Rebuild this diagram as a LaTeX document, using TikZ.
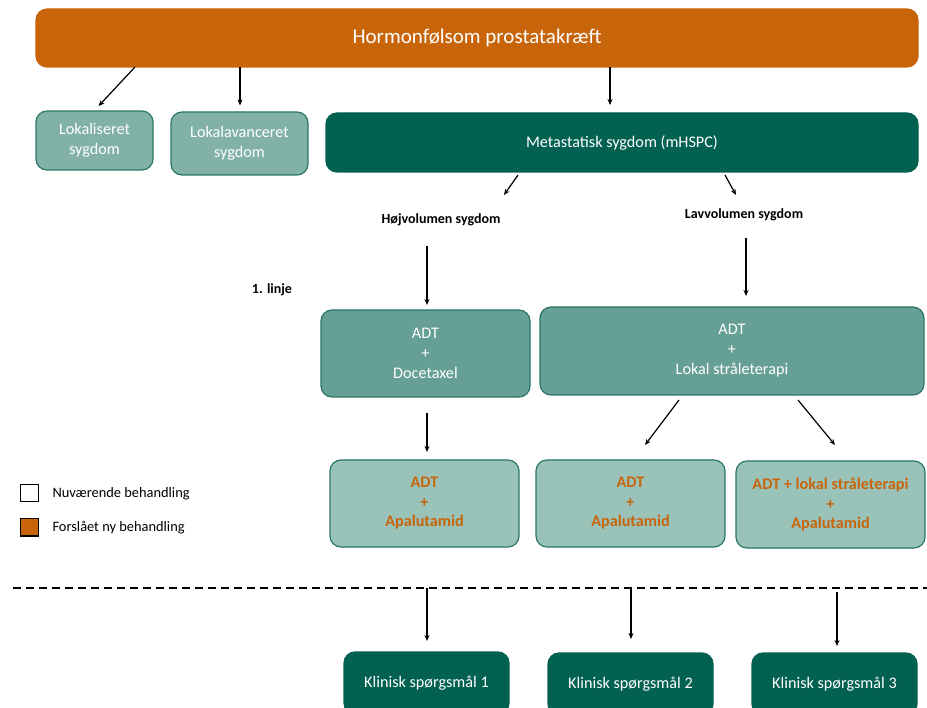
\documentclass[tikz,border=0pt]{standalone}
\usepackage{fontspec}
\setmainfont{Carlito}
\usetikzlibrary{arrows.meta}

\definecolor{kraeft}{HTML}{C8650B}
\definecolor{morkgron}{HTML}{036152}
\definecolor{midgron}{HTML}{669F95}
\definecolor{lysgron}{HTML}{82B1A8}
\definecolor{blegron}{HTML}{99C2B9}
\definecolor{kant}{HTML}{2A7767}

\begin{document}
\begin{tikzpicture}[x=1pt, y=-1pt, >={Stealth[length=6pt, width=5pt]},
		box/.style={draw=kant, line width=1.2pt, rounded corners=11pt, text=white, align=center,
			inner sep=0pt, font=\fontsize{16.2}{20}\selectfont},
		lys/.style={box, fill=lysgron},
		mid/.style={box, fill=midgron},
		ny/.style={box, fill=blegron, text=kraeft, font=\fontsize{16.2}{19.5}\selectfont\bfseries},
		mork/.style={box, fill=morkgron, draw=morkgron},
		etiket/.style={font=\fontsize{14}{16}\selectfont\bfseries},
		pil/.style={->, line width=1.2pt}]
		\clip (0,0) rectangle (927,708);

		\node [box, fill=kraeft, draw=kraeft, minimum width=882, minimum height=58,
			font=\fontsize{21}{24}\selectfont] (hor) at (477,38) {Hormonfølsom prostatakræft};
		\node [lys, minimum width=117, minimum height=59] (lok) at (94.5,140.5) {Lokaliseret\\sygdom};
		\node [lys, minimum width=137, minimum height=63] (lav) at (239.5,143.5) {Lokalavanceret\\sygdom};
		\node [mork, minimum width=592, minimum height=59] (met) at (622,142.5) {Metastatisk sygdom (mHSPC)};

		\node [etiket] (hoj) at (441,220) {Højvolumen sygdom};
		\node [etiket] (lvv) at (744,215) {Lavvolumen sygdom};
		\node [etiket] (lin) at (272,290) {1. linje};

		\node [mid, minimum width=209, minimum height=87] (adtd) at (425.5,353.5) {ADT\\+\\Docetaxel};
		\node [mid, minimum width=384, minimum height=88] (adtl) at (732,351) {ADT\\+\\Lokal stråleterapi};

		\node [ny, minimum width=189, minimum height=87] (apa1) at (424.5,503.5) {ADT\\+\\Apalutamid};
		\node [ny, minimum width=189, minimum height=87] (apa2) at (630.5,503.5) {ADT\\+\\Apalutamid};
		\node [ny, minimum width=189, minimum height=87] (apa3) at (830.5,504.5) {ADT + lokal stråleterapi\\+\\Apalutamid};

		\node [mork, minimum width=165, minimum height=62] (kq1) at (426.5,683) {Klinisk spørgsmål 1};
		\node [mork, minimum width=165, minimum height=62] (kq2) at (630.5,684) {Klinisk spørgsmål 2};
		\node [mork, minimum width=165, minimum height=62] (kq3) at (834.5,684) {Klinisk spørgsmål 3};

		% legend
		\node [draw, line width=1pt, fill=white, minimum width=18, minimum height=17, inner sep=0pt] (leg1) at (29,493.5) {};
		\node [draw, line width=1pt, fill=kraeft, minimum width=18, minimum height=17, inner sep=0pt] (leg2) at (29,527.5) {};
		\node [anchor=west, font=\fontsize{14.4}{16}\selectfont] (legt1) at (49,494) {Nuværende behandling};
		\node [anchor=west, font=\fontsize{14.4}{16}\selectfont] (legt2) at (49,528) {Forslået ny behandling};

		% free ends
		\coordinate (h1) at (135,67);
		\coordinate (h2) at (240,67);
		\coordinate (h3) at (610,67);
		\coordinate (h3e) at (610,105);
		\coordinate (m1) at (518,175);
		\coordinate (m1e) at (504,195);
		\coordinate (m2) at (725,175);
		\coordinate (m2e) at (736,195);
		\coordinate (v1) at (427,246);
		\coordinate (v1e) at (427,305);
		\coordinate (v2) at (746,238);
		\coordinate (v2e) at (746,296);
		\coordinate (d1) at (427,413);
		\coordinate (d1e) at (427,452);
		\coordinate (l1) at (679,400);
		\coordinate (l1e) at (645,445);
		\coordinate (l2) at (798,400);
		\coordinate (l2e) at (835,445);
		\coordinate (s1) at (13,588);
		\coordinate (s2) at (927,588);
		\coordinate (k1) at (427,588);
		\coordinate (k1e) at (427,641);
		\coordinate (k2) at (631,587);
		\coordinate (k2e) at (631,639);
		\coordinate (k3) at (837,592);
		\coordinate (k3e) at (837,646);

		\path[pil] (h1) edge [shorten >=6pt] (lok.north);
		\path[pil] (h2) edge [shorten >=6pt] (h2 |- lav.north);
		\path[pil] (h3) edge (h3e);
		\path[pil] (m1) edge (m1e);
		\path[pil] (m2) edge (m2e);
		\path[pil] (v1) edge (v1e);
		\path[pil] (v2) edge (v2e);
		\path[pil] (d1) edge (d1e);
		\path[pil] (l1) edge (l1e);
		\path[pil] (l2) edge (l2e);
		\draw[line width=1.3pt, dash pattern=on 8pt off 5pt] (s1) -- (s2);
		\path[pil] (k1) edge (k1e);
		\path[pil] (k2) edge (k2e);
		\path[pil] (k3) edge (k3e);
	\end{tikzpicture}
\end{document}
